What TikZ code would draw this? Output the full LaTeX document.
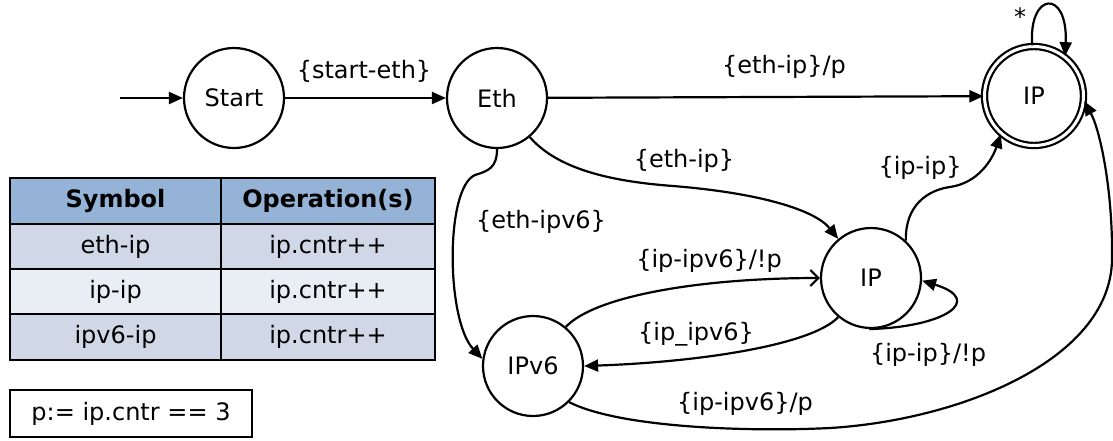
\documentclass[tikz,border=0pt]{standalone}
\usepackage{fontspec}
\setmainfont{DejaVu Sans}
\usetikzlibrary{arrows.meta}

\definecolor{hdrblue}{RGB}{149,179,215}
\definecolor{rowdark}{RGB}{208,216,232}
\definecolor{rowlight}{RGB}{233,237,244}

\begin{document}
\begin{tikzpicture}[x=1pt, y=-1pt,
  font=\fontsize{24}{28}\selectfont,
  state/.style={circle, draw, line width=2.2pt, minimum size=100pt, inner sep=0pt},
  accept/.style={circle, draw, line width=2.2pt, double, double distance=3pt,
    minimum size=99pt, inner sep=0pt},
  trans/.style={line width=2.2pt, -{Triangle[length=14pt,width=12pt]}},
  opentrans/.style={line width=2.2pt, -{Straight Barb[length=8pt,width=16pt]}},
  lbl/.style={inner sep=0pt},
  cell/.style={inner sep=0pt},
  rule/.style={line width=1.8pt},
]
\useasboundingbox (0,0) rectangle (1113,440);

% states
\node[state]  (start) at (234,98)  {Start};
\node[state]  (eth)   at (497,98)  {Eth};
\node[accept] (ipf)   at (1034,96) {IP};
\node[state]  (ipm)   at (871,278) {IP};
\node[state]  (ipv6)  at (533,366) {IPv6};
\coordinate (init) at (120,98);

% transitions
\draw[trans] (init) -- (start);
\draw[trans] (start) -- (eth);
\draw[trans] (eth) -- (ipf);
\draw[trans] (eth.-50) .. controls (560,172) and (620,182) .. (673,186)
  .. controls (760,193) and (815,210) .. (ipm.130);
\draw[trans] (eth.-90) .. controls (497,168) and (488,171) .. (475,175)
  .. controls (445,188) and (446,320) .. (ipv6.172);
\draw[trans] (ipm.47) .. controls (905,205) and (928,190) .. (950,187)
  .. controls (978,183) and (992,160) .. (ipf.-131);
\draw[trans] (ipm.-92) .. controls (945,327) and (985,300) .. (ipm.-3);
\draw[trans] (ipm.-130) .. controls (812,345) and (700,362) .. (ipv6.0);
\draw[opentrans] (ipv6.50) .. controls (595,296) and (700,278) .. (ipm.180);
\draw[trans] (ipv6.-45) .. controls (620,428) and (750,432) .. (830,428)
  .. controls (960,420) and (1110,360) .. (1112,260)
  .. controls (1113,190) and (1100,130) .. (ipf.-6);
\draw[trans] (ipf.92) .. controls (1028,-8) and (1068,-12) .. (ipf.52);

% transition labels
\node[lbl] (l1) at (364,71)  {\{start-eth\}};
\node[lbl] (l2) at (784,67)  {\{eth-ip\}/p};
\node[lbl] (l3) at (684,161) {\{eth-ip\}};
\node[lbl] (l4) at (541,222) {\{eth-ipv6\}};
\node[lbl] (l5) at (920,168) {\{ip-ip\}};
\node[lbl] (l6) at (709,261) {\{ip-ipv6\}/!p};
\node[lbl] (l7) at (696,334) {\{ip\_ipv6\}};
\node[lbl] (l8) at (928,355) {\{ip-ip\}/!p};
\node[lbl] (l9) at (745,404) {\{ip-ipv6\}/p};
\node[lbl] (l10) at (1020,17) {*};

% operations table
\fill[hdrblue] (10,178) rectangle (435,224);
\fill[rowdark]  (10,224) rectangle (435,269);
\fill[rowlight] (10,269) rectangle (435,314);
\fill[rowdark]  (10,314) rectangle (435,360);
\draw[rule] (10,224) -- (435,224);
\draw[rule] (10,269) -- (435,269);
\draw[rule] (10,314) -- (435,314);
\draw[rule] (221,178) -- (221,360);
\draw[line width=2.2pt] (10,178) rectangle (435,360);

\node[cell] (h1) at (115.5,201) {\bfseries Symbol};
\node[cell] (h2) at (328,201)   {\bfseries Operation(s)};
\node[cell] (a1) at (115.5,246.5) {eth-ip};
\node[cell] (a2) at (328,246.5)   {ip.cntr++};
\node[cell] (b1) at (115.5,291.5) {ip-ip};
\node[cell] (b2) at (328,291.5)   {ip.cntr++};
\node[cell] (c1) at (115.5,337)   {ipv6-ip};
\node[cell] (c2) at (328,337)     {ip.cntr++};

% predicate definition
\node[draw, line width=2.4pt, minimum width=242pt, minimum height=47pt, inner sep=0pt]
  (pdef) at (131,413.5) {p:= ip.cntr == 3};
\end{tikzpicture}
\end{document}
